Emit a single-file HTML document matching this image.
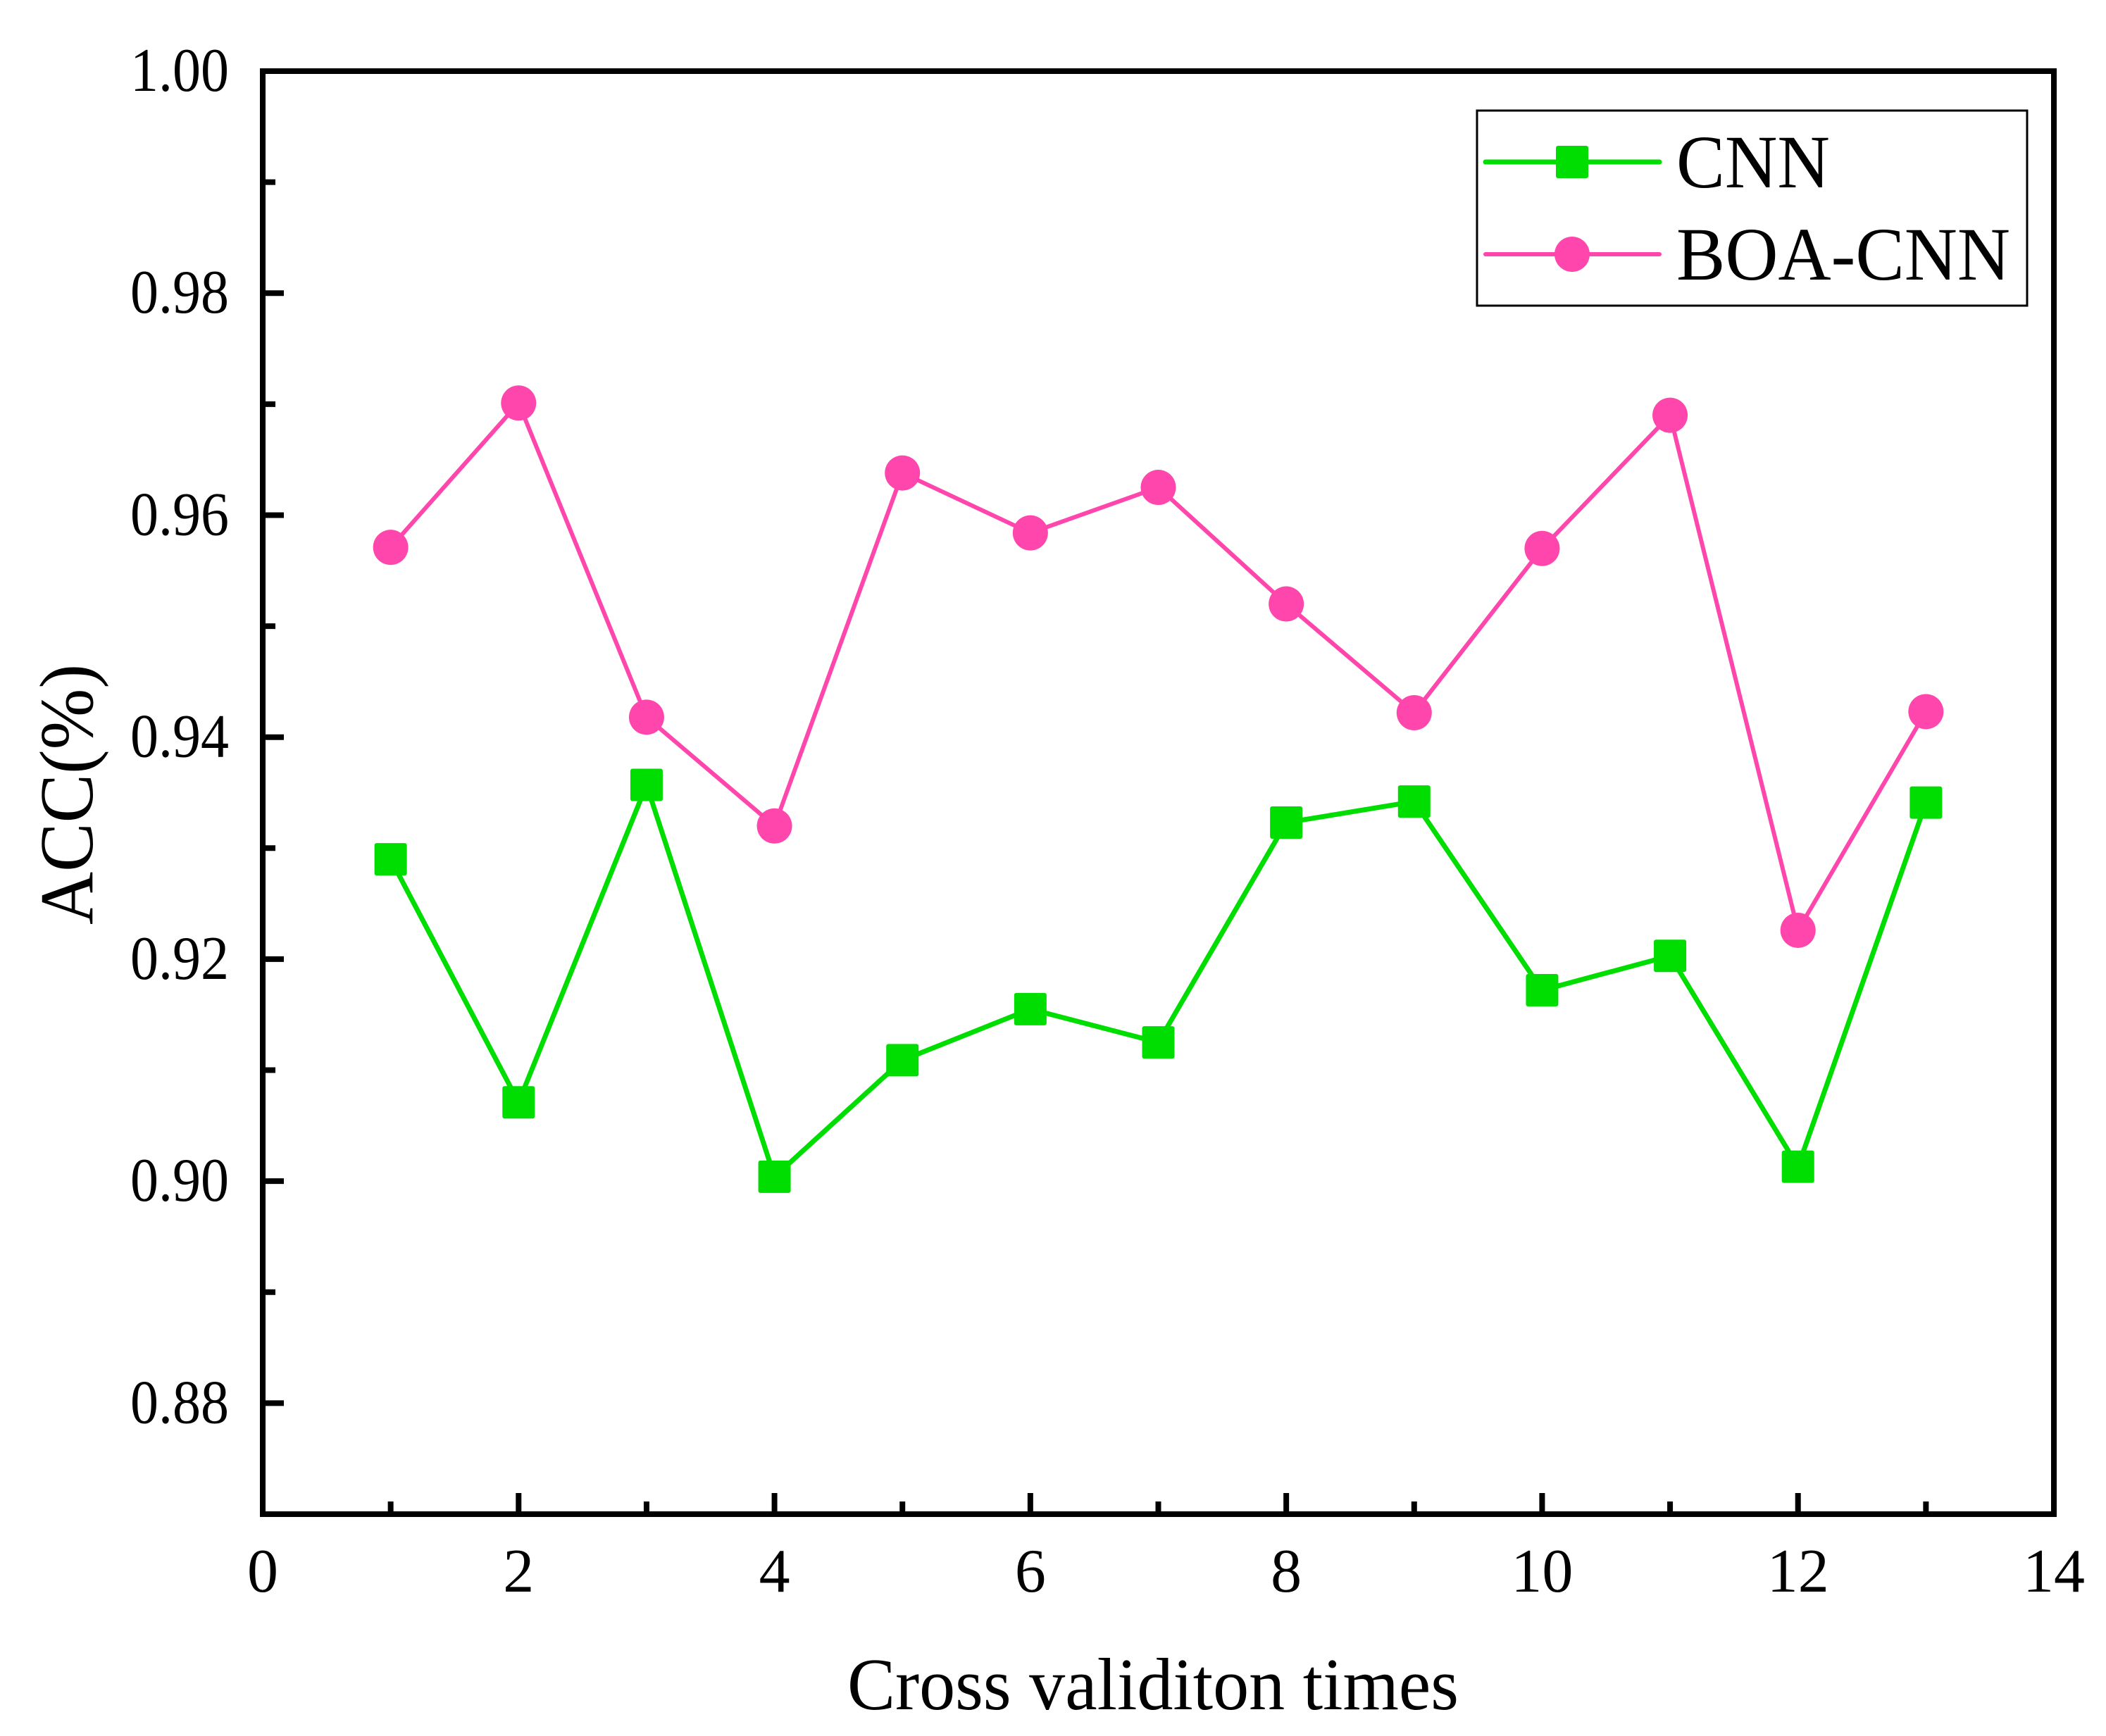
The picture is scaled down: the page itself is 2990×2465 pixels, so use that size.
<!DOCTYPE html>
<html><head><meta charset="utf-8"><style>html,body{margin:0;padding:0;background:#fff}svg{display:block}</style></head>
<body>
<svg id="chart" width="2990" height="2465" viewBox="0 0 2990 2465" xmlns="http://www.w3.org/2000/svg" font-family="'Liberation Serif', serif"></svg>
<script>
const folds = [1,2,3,4,5,6,7,8,9,10,11,12,13];
const cnnValues = [0.9290,0.9071,0.9357,0.9004,0.9109,0.9155,0.9125,0.9323,0.9342,0.9172,0.9203,0.9013,0.9341];
const boaValues = [0.9571,0.9701,0.9418,0.9320,0.9638,0.9584,0.9625,0.9520,0.9422,0.9570,0.9690,0.9226,0.9423];
const xTicks = [0,2,4,6,8,10,12,14];
const xMinorTicks = [1,3,5,7,9,11,13];
const yTicks = [0.88,0.90,0.92,0.94,0.96,0.98,1.00];
const yTickLabels = ["0.88","0.90","0.92","0.94","0.96","0.98","1.00"];
const yMinorTicks = [0.87,0.89,0.91,0.93,0.95,0.97,0.99];

const L=373,R=2916,T=101,B=2150;
const X0=0,X1=14,Y0=0.87,Y1=1.00;
function xs(v){return L+(v-X0)/(X1-X0)*(R-L);}
function ys(v){return B-(v-Y0)/(Y1-Y0)*(B-T);}
const svg=document.getElementById('chart');
const NS='http://www.w3.org/2000/svg';
function mk(tag,attrs,parent){const e=document.createElementNS(NS,tag);for(const k in attrs)e.setAttribute(k,attrs[k]);(parent||svg).appendChild(e);return e;}

for(let i=0;i<yTicks.length;i++){
  const y=ys(yTicks[i]);
  const t=mk('line',{x1:L,x2:L+30,y1:y,y2:y,stroke:'#000','stroke-width':8});
  
  
  const lb=mk('text',{x:325,y:y+28,'font-size':88,'text-anchor':'end',fill:'#000',textLength:140,lengthAdjust:'spacingAndGlyphs'});
  lb.textContent=yTickLabels[i];
  
  
}
for(const v of yMinorTicks){
  const y=ys(v);
  const t=mk('line',{x1:L,x2:L+18,y1:y,y2:y,stroke:'#000','stroke-width':8});
  
  
}
for(const v of xTicks){
  const x=xs(v);
  const t=mk('line',{x1:x,x2:x,y1:B,y2:B-30,stroke:'#000','stroke-width':8});
  
  
  const lb=mk('text',{x:x,y:2260,'font-size':88,'text-anchor':'middle',fill:'#000'});
  lb.textContent=String(v);
  
  
}
for(const v of xMinorTicks){
  const x=xs(v);
  const t=mk('line',{x1:x,x2:x,y1:B,y2:B-18,stroke:'#000','stroke-width':8});
  
  
}
const fr=mk('rect',{x:L,y:T,width:R-L,height:B-T,fill:'none',stroke:'#000','stroke-width':8});



function series(vals,color,name,marker){
  const g=mk('g',{});
  
  
  const pts=folds.map((f,i)=>xs(f)+','+ys(vals[i])).join(' ');
  const pl=mk('polyline',{points:pts,fill:'none',stroke:color,'stroke-width':marker==='square'?7:6,'stroke-linejoin':'round'},g);
  
  
  folds.forEach((f,i)=>{
    const cx=xs(f),cy=ys(vals[i]);
    let m;
    if(marker==='square') m=mk('rect',{x:cx-23,y:cy-23,width:46,height:46,rx:3,fill:color},g);
    else m=mk('circle',{cx:cx,cy:cy,r:25,fill:color},g);
    
    
  });
}
series(cnnValues,'#00dd00','cnn','square');
series(boaValues,'#ff46ac','boa-cnn','circle');

const lg=mk('g',{});


mk('rect',{x:2097,y:157,width:781,height:277,fill:'#fff',stroke:'#000','stroke-width':3},lg);
const e1=mk('g',{},lg);


mk('line',{x1:2109,x2:2356,y1:230,y2:230,stroke:'#00dd00','stroke-width':7,'stroke-linecap':'round'},e1);
mk('rect',{x:2209,y:207,width:46,height:46,rx:3,fill:'#00dd00'},e1);
const t1=mk('text',{x:2380,y:266,'font-size':107,fill:'#000',textLength:218,lengthAdjust:'spacingAndGlyphs'},e1);
t1.textContent='CNN';
const e2=mk('g',{},lg);


mk('line',{x1:2109,x2:2356,y1:361,y2:361,stroke:'#ff46ac','stroke-width':6,'stroke-linecap':'round'},e2);
mk('circle',{cx:2232,cy:361,r:25,fill:'#ff46ac'},e2);
const t2=mk('text',{x:2380,y:397,'font-size':107,fill:'#000',textLength:474,lengthAdjust:'spacingAndGlyphs'},e2);
t2.textContent='BOA-CNN';

const xt=mk('text',{x:1203,y:2427,'font-size':105,fill:'#000',textLength:868,lengthAdjust:'spacingAndGlyphs'});
xt.textContent='Cross validiton times';


const yt=mk('text',{x:0,y:0,'font-size':108,fill:'#000','text-anchor':'middle',transform:'translate(131,1128) rotate(-90)',textLength:370,lengthAdjust:'spacingAndGlyphs'});
yt.textContent='ACC(%)';


</script>
</body></html>
